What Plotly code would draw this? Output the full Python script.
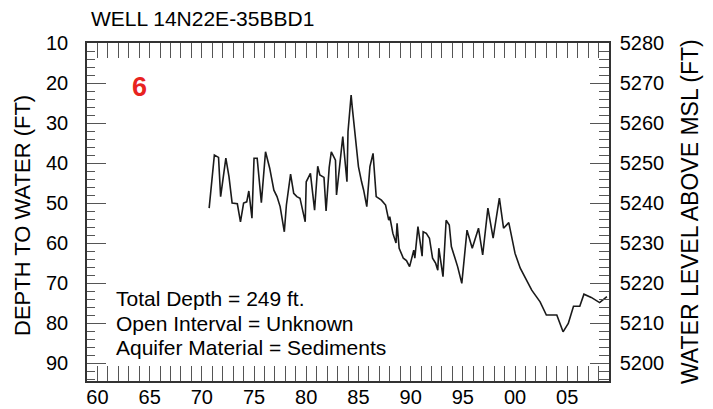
import plotly.graph_objects as go

# ---- data (year offsets from 1900, depth to water in ft) ----
years = [70.7, 71.2, 71.6, 71.8, 72.3, 72.6, 72.9, 73.4, 73.7, 74.0, 74.3, 74.5, 74.8,
         75.0, 75.3, 75.7, 76.1, 76.5, 76.9, 77.2, 77.5, 77.9, 78.1, 78.5, 78.8, 79.1,
         79.4, 79.9, 80.0, 80.4, 80.8, 81.1, 81.3, 81.7, 81.9, 82.2, 82.4, 82.8, 82.9,
         83.2, 83.5, 83.6, 83.9, 84.0, 84.3, 84.4, 85.0, 85.3, 85.5, 85.8, 86.1, 86.4,
         86.7, 87.2, 87.6, 87.9, 88.0, 88.3, 88.6, 88.7, 88.9, 89.3, 89.6, 89.9, 90.3,
         90.4, 90.7, 91.1, 91.2, 91.5, 91.8, 92.1, 92.4, 92.6, 92.7, 93.1, 93.4, 93.7,
         93.9, 94.2, 94.5, 94.9, 95.4, 95.9, 96.5, 96.9, 97.4, 97.9, 98.5, 98.9, 99.4,
         100.0, 100.5, 101.1, 101.6, 102.4, 103.0, 104.0, 104.6, 105.1, 105.6, 106.2,
         106.6, 107.3, 108.1, 108.8]
depth = [51.3, 38.0, 38.6, 48.4, 38.8, 43.4, 50.0, 50.2, 54.7, 50.0, 49.7, 47.0, 53.8,
         38.8, 38.8, 49.9, 37.2, 41.3, 46.8, 48.4, 50.9, 57.2, 50.5, 42.8, 47.6, 48.4,
         48.8, 54.7, 44.7, 42.6, 51.8, 40.8, 43.0, 43.6, 52.0, 41.1, 37.2, 39.3, 48.0,
         40.9, 33.4, 36.3, 44.7, 32.2, 23.0, 25.9, 40.9, 44.7, 46.8, 50.9, 40.9, 37.6,
         48.4, 49.3, 50.5, 54.3, 53.4, 57.6, 60.0, 55.1, 61.3, 63.8, 64.4, 65.9, 61.8,
         63.8, 55.9, 63.3, 57.2, 57.6, 58.8, 63.8, 65.1, 66.8, 61.3, 68.4, 54.3, 55.5,
         60.9, 63.4, 65.9, 70.1, 56.8, 61.3, 56.3, 63.0, 51.3, 58.8, 48.8, 56.3, 54.9,
         62.6, 66.3, 69.3, 71.8, 74.7, 78.0, 78.0, 82.2, 80.1, 75.8, 75.8,
         72.8, 73.6, 74.9, 73.4]
land_surface = 5290
x_tickvals = [60, 65, 70, 75, 80, 85, 90, 95, 100, 105]
x_ticktext = ["60", "65", "70", "75", "80", "85", "90", "95", "00", "05"]
depth_ticks = [10, 20, 30, 40, 50, 60, 70, 80, 90]
elev_ticks = [5200, 5210, 5220, 5230, 5240, 5250, 5260, 5270, 5280]
info_lines = ["Total Depth = 249 ft.", "Open Interval = Unknown", "Aquifer Material = Sediments"]
title_text = "WELL 14N22E-35BBD1"
plate_no = "6"

FONT = "Liberation Sans, Arial, sans-serif"
AX = "#333333"
TK = "#555555"

fig = go.Figure()
fig.add_trace(go.Scatter(x=years, y=depth, mode="lines",
                         line=dict(color="#1a1a1a", width=1.6),
                         showlegend=False, hoverinfo="skip"))
fig.add_trace(go.Scatter(x=years, y=[land_surface - d for d in depth], yaxis="y2",
                         mode="lines", line=dict(width=0, color="rgba(0,0,0,0)"),
                         opacity=0, showlegend=False, hoverinfo="skip"))

fig.update_layout(
    width=713, height=409,
    margin=dict(l=87, r=104, t=43, b=28),
    paper_bgcolor="white", plot_bgcolor="white",
    font=dict(family=FONT, color="black", size=20),
    xaxis=dict(range=[59, 109], showgrid=False, zeroline=False, automargin=False,
               showline=True, linecolor=AX, linewidth=1.5, mirror="ticks",
               ticks="inside", ticklen=15, tickcolor=TK, tickwidth=1,
               tickvals=x_tickvals, ticktext=x_ticktext,
               tickfont=dict(size=20), ticklabelstandoff=-3,
               minor=dict(dtick=1, tick0=0, ticks="inside", ticklen=15,
                          tickcolor=TK, tickwidth=1, showgrid=False)),
    yaxis=dict(range=[94.5, 10], showgrid=False, zeroline=False, automargin=False,
               showline=True, linecolor=AX, linewidth=1.5,
               ticks="inside", ticklen=19, tickcolor=TK, tickwidth=1,
               tickvals=depth_ticks, tickfont=dict(size=20),
               ticklabelstandoff=13,
               minor=dict(dtick=2, tick0=0, ticks="inside", ticklen=8,
                          tickcolor=TK, tickwidth=1, showgrid=False)),
    yaxis2=dict(overlaying="y", side="right", automargin=False,
                range=[land_surface - 94.5, land_surface - 10],
                showgrid=False, zeroline=False,
                showline=True, linecolor=AX, linewidth=1.5,
                ticks="inside", ticklen=19, tickcolor=TK, tickwidth=1,
                tickvals=elev_ticks, tickfont=dict(size=20),
                ticklabelstandoff=5,
                minor=dict(dtick=2, tick0=0, ticks="inside", ticklen=10,
                           tickcolor=TK, tickwidth=1, showgrid=False)),
)

ann = []
ann.append(dict(text=title_text, xref="paper", yref="paper", x=0, y=1,
                xanchor="left", yanchor="middle", xshift=2, yshift=25,
                showarrow=False, font=dict(size=21, color="black")))
ann.append(dict(text="DEPTH TO WATER (FT)", xref="paper", yref="paper", x=0, y=0.5,
                xanchor="center", yanchor="middle", xshift=-65, yshift=-4, textangle=-90,
                showarrow=False, font=dict(size=22, color="black")))
ann.append(dict(text="WATER LEVEL ABOVE MSL (FT)", xref="paper", yref="paper", x=1, y=0.5,
                xanchor="center", yanchor="middle", xshift=81, textangle=-90,
                showarrow=False, font=dict(size=23, color="black")))
ann.append(dict(text="<b>" + plate_no + "</b>", xref="paper", yref="paper", x=0, y=1,
                xanchor="center", yanchor="middle", xshift=52, yshift=-44,
                showarrow=False, font=dict(size=27, color="#e8231f")))
ys = [298, 323, 347]
for t, yp in zip(info_lines, ys):
    ann.append(dict(text=t, xref="paper", yref="paper", x=0, y=(381 - yp) / 338,
                    xanchor="left", yanchor="middle", xshift=27,
                    showarrow=False, font=dict(size=21, color="black")))
fig.update_layout(annotations=ann)

fig.write_html("out.html")
